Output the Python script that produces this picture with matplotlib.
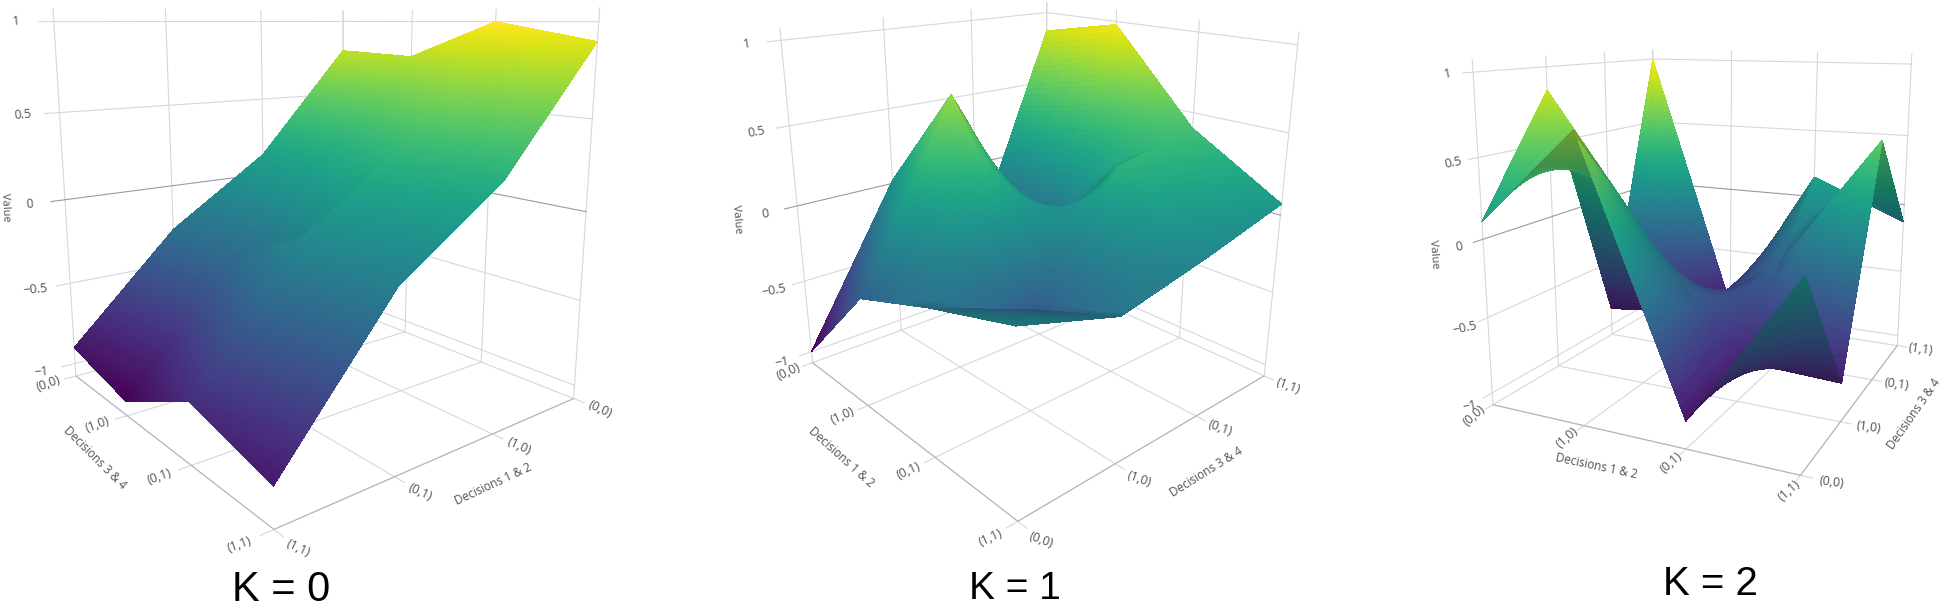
import numpy as np
import matplotlib

matplotlib.use("Agg")
import matplotlib.pyplot as plt
from mpl_toolkits.mplot3d import proj3d

TICK_LABELS = ["(0,0)", "(1,0)", "(0,1)", "(1,1)"]
Z_TICKS = [-1, -0.5, 0, 0.5, 1]
Z_TICK_LABELS = ["\u22121", "\u22120.5", "0", "0.5", "1"]
D12 = "Decisions 1 & 2"
D34 = "Decisions 3 & 4"

# rows are the x axis categories, columns the y axis categories
K0_VALUES = [
    [0.80, 0.78, 1.00, 0.90],
    [0.13, 0.20, 0.37, 0.25],
    [-0.28, -0.32, -0.05, -0.15],
    [-0.90, -1.00, -0.75, -0.88],
]
K1_VALUES = [
    [-1.00, 0.02, -0.55, 0.87],
    [-0.38, 0.70, -0.40, 0.98],
    [-0.19, -0.42, 0.28, 0.40],
    [-0.03, -0.21, -0.08, 0.07],
]
K2_VALUES = [
    [0.11, 0.85, -0.87, 1.00],
    [0.70, 0.00, -0.80, -0.95],
    [-0.91, -0.80, -0.35, 0.15],
    [0.03, -0.83, 0.55, -0.13],
]

Z_LOW, Z_HIGH = -1.08, 1.07
TEXT_COLOR = "#50505a"
GRID_COLOR = "#d6d6de"
FINE = 36
W, H = 1944, 607
SIZE = 600


def refine(values):
    # only for shading the patches: the nodes keep the values above
    nodes = np.arange(4)
    fine = np.linspace(0, 3, 3 * FINE + 1)
    rows = np.array([np.interp(fine, nodes, row) for row in np.array(values)])
    grid = np.array([np.interp(fine, nodes, col) for col in rows.T]).T
    return fine, grid


def surface_colors(fine, grid, azim, elev, aspect):
    # viridis by height, darkened on faces turned away from the viewer
    dzdx, dzdy = np.gradient(grid, fine, fine)
    to_box_x = (aspect[2] / (Z_HIGH - Z_LOW)) * (3 / aspect[0])
    to_box_y = (aspect[2] / (Z_HIGH - Z_LOW)) * (3 / aspect[1])
    nx, ny = -dzdx * to_box_x, -dzdy * to_box_y
    norm = np.sqrt(nx ** 2 + ny ** 2 + 1)
    a, e = np.radians(azim), np.radians(elev)
    facing = (nx * np.cos(e) * np.cos(a) + ny * np.cos(e) * np.sin(a) + np.sin(e)) / norm
    colors = plt.get_cmap("viridis")((grid + 1) / 2)
    colors[..., :3] *= np.clip(0.84 + 0.5 * facing, 0.72, 1)[..., None]
    return colors


def label(ax, x, y, z, text, rotation=0, size=9):
    # Text3D ignores rotation, so project the anchor and place it in 2D
    xp, yp, _ = proj3d.proj_transform(x, y, z, ax.get_proj())
    ax.text2D(xp, yp, text, transform=ax.transData, rotation=rotation,
              rotation_mode="anchor", color=TEXT_COLOR, fontsize=size,
              ha="center", va="center", family="Open Sans", zorder=5)


def draw_panel(center, values, azim, elev, focal, aspect, zoom, front_y, x_rot, y_rot, z_rot):
    rect = [(center[0] - SIZE / 2) / W, 1 - (center[1] + SIZE / 2) / H, SIZE / W, SIZE / H]
    ax = fig.add_axes(rect, projection="3d")
    ax.set_proj_type("persp", focal_length=focal)
    ax.view_init(elev=elev, azim=azim)
    ax.set_box_aspect(aspect, zoom=zoom)
    ax.set_xlim(0, 3, view_margin=0)
    ax.set_ylim(0, 3, view_margin=0)
    ax.set_zlim(Z_LOW, Z_HIGH, view_margin=0)
    ax.set_axis_off()
    ax.computed_zorder = False
    ax.patch.set_alpha(0)

    front_x, back_x = 3, 0
    back_y = 3 - front_y
    sy = 1 if front_y == 3 else -1

    def line(xs, ys, zs, color=GRID_COLOR, lw=0.8):
        ax.plot(xs, ys, zs, color=color, lw=lw, zorder=1, clip_on=False)

    for i in range(4):
        line([i, i], [back_y, front_y + sy * 0.1], [Z_LOW, Z_LOW])
        line([i, i], [back_y, back_y], [Z_LOW, Z_HIGH])
        label(ax, i, front_y + sy * 0.25, Z_LOW, TICK_LABELS[i], x_rot)
    for j in range(4):
        line([back_x, front_x + 0.1], [j, j], [Z_LOW, Z_LOW])
        line([back_x, back_x], [j, j], [Z_LOW, Z_HIGH])
        label(ax, front_x + 0.25, j, Z_LOW, TICK_LABELS[j], y_rot)
    for z, text in zip(Z_TICKS, Z_TICK_LABELS):
        color = "#9a9aa2" if z == 0 else GRID_COLOR
        if front_y == 3:
            # value axis stands on the corner x=3, y=0
            line([front_x + 0.12, back_x], [back_y, back_y], [z, z], color)
            line([back_x, back_x], [back_y, front_y], [z, z], color)
            label(ax, front_x + 0.3, back_y, z, text, z_rot)
        else:
            # value axis stands on the corner x=0, y=0
            line([front_x, back_x], [back_y, back_y], [z, z], color)
            line([back_x, back_x], [back_y, front_y - 0.12], [z, z], color)
            label(ax, back_x, front_y - 0.3, z, text, z_rot)
    line([3, 0], [front_y, front_y], [Z_LOW, Z_LOW], "#b4b4bc")
    line([3, 3], [front_y, back_y], [Z_LOW, Z_LOW], "#b4b4bc")

    fine, grid = refine(values)
    xx, yy = np.meshgrid(fine, fine, indexing="ij")
    ax.plot_surface(xx, yy, grid, rstride=1, cstride=1,
                    facecolors=surface_colors(fine, grid, azim, elev, aspect),
                    linewidth=0, antialiased=False, shade=False, zorder=3)
    return ax


def fig_label(x, y, text, rotation, size=8.5):
    fig.text(x / W, 1 - y / H, text, rotation=rotation, rotation_mode="anchor",
             color=TEXT_COLOR, fontsize=size, ha="center", va="center",
             family="Open Sans")


fig = plt.figure(figsize=(W / 100, H / 100), dpi=100)

draw_panel((309, 214.5), K0_VALUES, 51.7, 12.1, 0.267, (1, 0.985, 1.036), 1.053, 3, -25, 20, 5)
draw_panel((1027, 219.4), K1_VALUES, -41.7, 19.5, 0.265, (1, 1, 1.047), 0.974, 0, 25, -20, 10)
draw_panel((1704, 229.2), K2_VALUES, -64.56, 12.76, 0.269, (1, 1.035, 1.043), 0.892, 0, 42, -8, 12)

fig_label(95, 458, D34, -45)
fig_label(493, 484, D12, 25)
fig_label(5, 207, "Value", -87, 8)
fig_label(841, 457, D12, -42)
fig_label(1206, 472, D34, 32)
fig_label(737, 219, "Value", -85, 8)
fig_label(1596, 466, D12, -12)
fig_label(1914, 414, D34, 55)
fig_label(1434, 254, "Value", -85, 8)

fig.text(281 / W, 1 - 590 / H, "K = 0", fontsize=30, family="Liberation Sans",
         ha="center", va="center", color="black")
fig.text(1015 / W, 1 - 589 / H, "K = 1", fontsize=28, family="Liberation Sans",
         ha="center", va="center", color="black")
fig.text(1710 / W, 1 - 584 / H, "K = 2", fontsize=29, family="Liberation Sans",
         ha="center", va="center", color="black")

fig.savefig("out.png", dpi=100)
